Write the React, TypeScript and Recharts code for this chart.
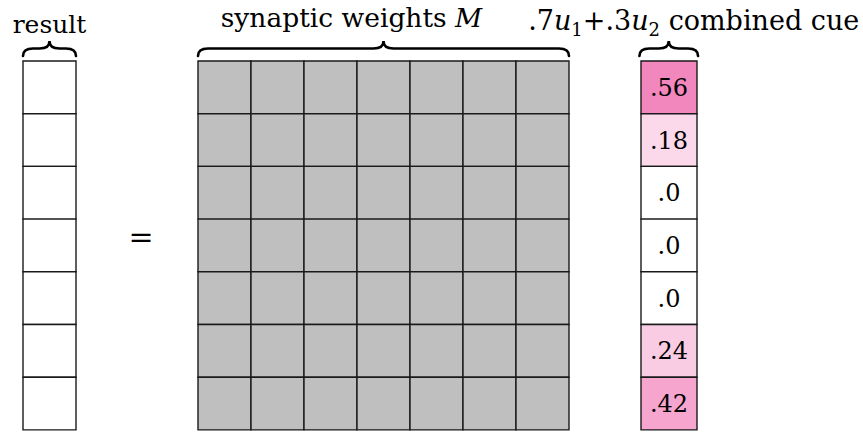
import { ScatterChart, Scatter, XAxis, YAxis, ReferenceArea } from 'recharts';

// rows of every vector / matrix, top to bottom
const rowIds = [0, 1, 2, 3, 4, 5, 6];
const matrixColumns = [0, 1, 2, 3, 4, 5, 6];
// result vector is still unknown (empty cells)
const resultValues: (number | null)[] = [null, null, null, null, null, null, null];
// combined cue .7u1 + .3u2
const cueValues = [0.56, 0.18, 0, 0, 0, 0.24, 0.42];
const cueLabels = ['.56', '.18', '.0', '.0', '.0', '.24', '.42'];

// layout in "cell" units (1 unit = one cell)
const X_MIN = -23 / 53;
const X_MAX = 840 / 53;
const Y_MIN = -61 / 52.7;
const Y_MAX = 372 / 52.7;
const RESULT_X = 0;
const EQ_X = 115 / 53;
const MATRIX_X = 175 / 53;
const CUE_X = 618 / 53;
const CUE_W = 56 / 53;
const BRACE_TOP = -20 / 52.7;
const BRACE_BOTTOM = -5 / 52.7;

const FONT = '"DejaVu Serif", "Liberation Serif", serif';
const STROKE = '#1a1a1a';
const GRAY = '#bfbfbf';

const cueColor = (v: number) => {
  const base = [231, 41, 138];
  const c = base.map((b) => Math.round(255 - v * (255 - b)));
  return `rgb(${c[0]},${c[1]},${c[2]})`;
};

const bracePath = (x: number, y: number, w: number, h: number) => {
  const xm = x + w / 2;
  const ym = y + h * 0.5;
  const yb = y + h;
  const r = Math.min(10, w / 4);
  return [
    `M${x},${yb}`,
    `Q${x},${ym} ${x + r},${ym}`,
    `L${xm - r},${ym}`,
    `Q${xm},${ym} ${xm},${y}`,
    `Q${xm},${ym} ${xm + r},${ym}`,
    `L${x + w - r},${ym}`,
    `Q${x + w},${ym} ${x + w},${yb}`,
  ].join(' ');
};

const braceShape = (title: React.ReactNode, dx: number, lift: number, size: number) => (p: any) => {
  const { x, y, width, height } = p;
  return (
    <g>
      <path d={bracePath(x, y, width, height)} fill="none" stroke="#000" strokeWidth={2.6} strokeLinecap="round" />
      <text x={x + width / 2 + dx} y={y - lift} textAnchor="middle" fontFamily={FONT} fontSize={size} fill="#000">
        {title}
      </text>
    </g>
  );
};

const cuePoints = cueValues.map((v, i) => ({ x: CUE_X + CUE_W / 2, y: rowIds[i] + 0.5, label: cueLabels[i], v }));
const eqPoint = [{ x: EQ_X, y: 3.5 }];

export default function App() {
  return (
    <div style={{ position: 'absolute', left: 0, top: 0, width: 863, height: 433, background: '#fff' }}>
      <ScatterChart width={863} height={433} margin={{ top: 0, right: 0, bottom: 0, left: 0 }}>
        <XAxis type="number" dataKey="x" domain={[X_MIN, X_MAX]} allowDataOverflow hide />
        <YAxis type="number" dataKey="y" domain={[Y_MIN, Y_MAX]} allowDataOverflow reversed hide />

        {resultValues.map((_, i) => (
          <ReferenceArea
            key={`r${i}`}
            x1={RESULT_X}
            x2={RESULT_X + 1}
            y1={rowIds[i]}
            y2={rowIds[i] + 1}
            fill="#fff"
            fillOpacity={1}
            stroke={STROKE}
            strokeWidth={1.4}
          />
        ))}

        {rowIds.map((r) =>
          matrixColumns.map((c) => (
            <ReferenceArea
              key={`m${r}-${c}`}
              x1={MATRIX_X + c}
              x2={MATRIX_X + c + 1}
              y1={r}
              y2={r + 1}
              fill={GRAY}
              fillOpacity={1}
              stroke={STROKE}
              strokeWidth={1.4}
            />
          ))
        )}

        {cueValues.map((v, i) => (
          <ReferenceArea
            key={`c${i}`}
            x1={CUE_X}
            x2={CUE_X + CUE_W}
            y1={rowIds[i]}
            y2={rowIds[i] + 1}
            fill={cueColor(v)}
            fillOpacity={1}
            stroke={STROKE}
            strokeWidth={1.4}
          />
        ))}

        <ReferenceArea
          x1={RESULT_X}
          x2={RESULT_X + 1}
          y1={BRACE_TOP}
          y2={BRACE_BOTTOM}
          fillOpacity={0}
          shape={braceShape('result', 0, 8, 25)}
        />
        <ReferenceArea
          x1={MATRIX_X}
          x2={MATRIX_X + matrixColumns.length}
          y1={BRACE_TOP}
          y2={BRACE_BOTTOM}
          fillOpacity={0}
          shape={braceShape(
            <>
              synaptic weights <tspan fontStyle="italic">M</tspan>
            </>,
            -32,
            14,
            26.5
          )}
        />
        <ReferenceArea
          x1={CUE_X - 0.03}
          x2={CUE_X + CUE_W + 0.02}
          y1={BRACE_TOP}
          y2={BRACE_BOTTOM}
          fillOpacity={0}
          shape={braceShape(
            <>
              .7<tspan fontStyle="italic">u</tspan>
              <tspan fontSize={18} dy={6}>1</tspan>
              <tspan dy={-6}>+.3</tspan>
              <tspan fontStyle="italic">u</tspan>
              <tspan fontSize={18} dy={6}>2</tspan>
              <tspan dy={-6}> combined cue</tspan>
            </>,
            25,
            11,
            27
          )}
        />

        <Scatter
          data={cuePoints}
          isAnimationActive={false}
          shape={(p: any) => (
            <text x={p.cx} y={p.cy + 8.5} textAnchor="middle" fontFamily={FONT} fontSize={24} fill="#000">
              {p.payload.label}
            </text>
          )}
        />
        <Scatter
          data={eqPoint}
          isAnimationActive={false}
          shape={(p: any) => (
            <text x={p.cx + 3} y={p.cy + 2} textAnchor="middle" fontFamily={FONT} fontSize={30} fill="#000">
              =
            </text>
          )}
        />
      </ScatterChart>
    </div>
  );
}
